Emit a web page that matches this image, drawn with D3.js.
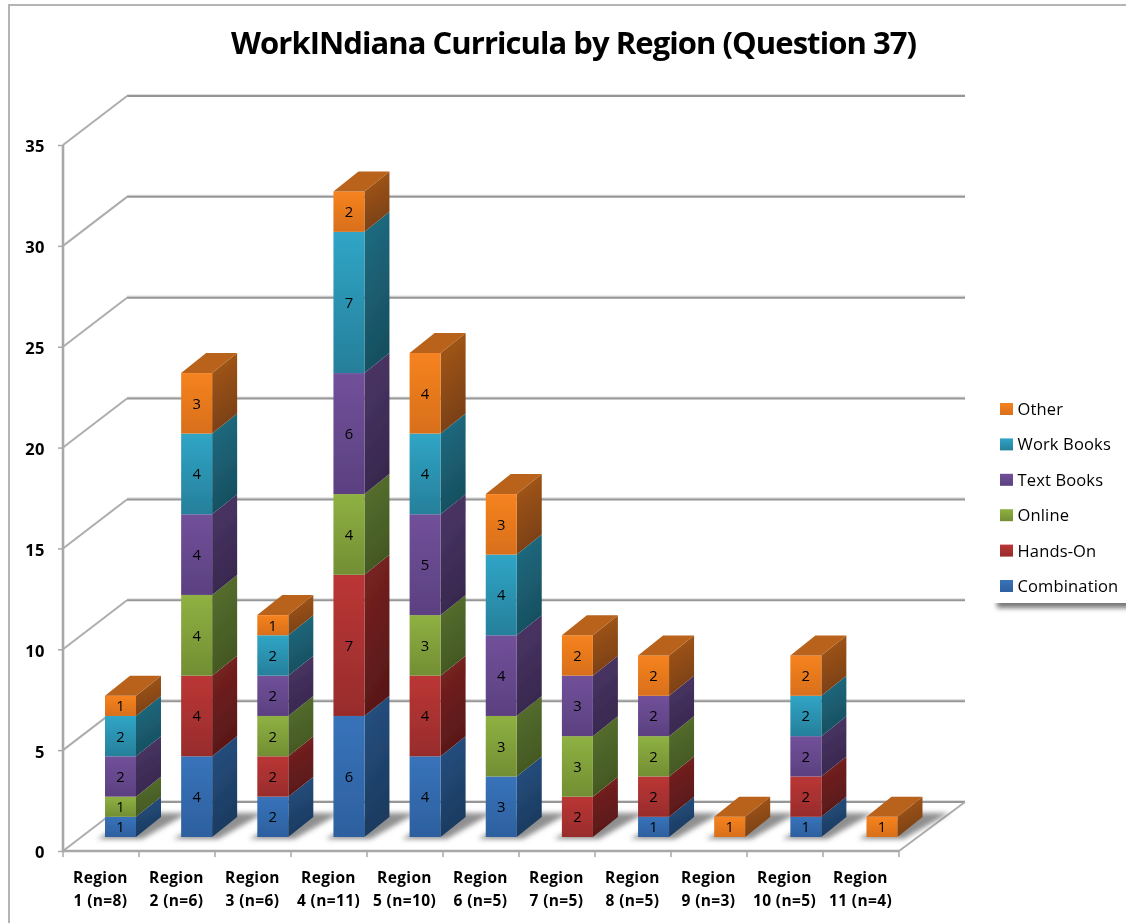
<!DOCTYPE html>
<html>
<head>
<meta charset="utf-8">
<script src="https://cdnjs.cloudflare.com/ajax/libs/d3/7.8.5/d3.min.js"></script>
<style>
html,body{margin:0;padding:0;background:#fff;overflow:hidden}
svg{display:block}
text{font-family:"Open Sans","Noto Sans",sans-serif;fill:#000}
</style>
</head>
<body>
<svg id="chart" width="1126" height="923"></svg>
<script>
const chartTitle = "WorkINdiana Curricula by Region (Question 37)";
const regionLines = [["Region","1 (n=8)"],["Region","2 (n=6)"],["Region","3 (n=6)"],["Region","4 (n=11)"],["Region","5 (n=10)"],["Region","6 (n=5)"],["Region","7 (n=5)"],["Region","8 (n=5)"],["Region","9 (n=3)"],["Region","10 (n=5)"],["Region","11 (n=4)"]];
const seriesNames = ["Combination","Hands-On","Online","Text Books","Work Books","Other"];
const combination = [1,4,2,6,4,3,0,1,0,1,0];
const handsOn     = [0,4,2,7,4,0,2,2,0,2,0];
const online      = [1,4,2,4,3,3,3,2,0,0,0];
const textBooks   = [2,4,2,6,5,4,3,2,0,2,0];
const workBooks   = [2,4,2,7,4,4,0,0,0,2,0];
const other       = [1,3,1,2,4,3,2,2,1,2,1];
const yTicks = [0,5,10,15,20,25,30,35];
const frontTop = ["#3873ba","#bb3635","#8fb142","#71519a","#30a5c6","#f68320"];
const frontBot = ["#2d609f","#982c2c","#728e33","#5b4080","#267f9a","#d86f1c"];
const sideTop  = ["#265284","#7c2322","#587230","#4c3668","#206e84","#a8591a"];
const sideBot  = ["#1b3a5f","#581818","#435722","#38284e","#174f60","#7a4012"];
const topColor = ["#2a5a90","#872626","#607c34","#533b70","#237890","#b9621a"];

const seriesValues = [combination,handsOn,online,textBooks,workBooks,other];
const cats = regionLines.map((d,i)=>i);
const rows = cats.map(i=>{const r={i};seriesNames.forEach((n,s)=>r[n]=seriesValues[s][i]);return r;});
const stacked = d3.stack().keys(seriesNames)(rows);

const svg = d3.select("#chart");
const defs = svg.append("defs");
const grad=(id,a,b,x2,y2)=>{const g=defs.append("linearGradient").attr("id",id).attr("x1",0).attr("y1",0).attr("x2",x2).attr("y2",y2);
  g.append("stop").attr("offset",0).attr("stop-color",a);g.append("stop").attr("offset",1).attr("stop-color",b);};
seriesNames.forEach((n,s)=>{grad("f"+s,frontTop[s],frontBot[s],0,1);grad("s"+s,sideTop[s],sideBot[s],0.25,1);});
const blur=defs.append("filter").attr("id","shadow").attr("x","-30%").attr("y","-50%").attr("width","160%").attr("height","200%");
blur.append("feGaussianBlur").attr("stdDeviation",2.8);
const soft=defs.append("filter").attr("id","soft").attr("x","-2%").attr("y","-2%").attr("width","104%").attr("height","104%");
soft.append("feGaussianBlur").attr("stdDeviation",0.5);
const legBlur=defs.append("filter").attr("id","legShadow").attr("x","-10%").attr("y","-10%").attr("width","120%").attr("height","120%");
legBlur.append("feGaussianBlur").attr("stdDeviation",2.5);

const y = d3.scaleLinear().domain([0,35]).range([851,145]);
const x = d3.scaleBand().domain(cats).range([63,899]);
const wallDx = 64, wallDy = -49;
const barW = 31, barInset = 42, barDrift = 0.15, barDepthX = 25, barDepthY = -20, barLift = -14;
const barX = i => x(i)+barInset+barDrift*i;
const barY = v => y(v)+barLift;
const poly = pts => pts.map(p=>p.join(",")).join(" ");

const root = svg.append("g").attr("filter","url(#soft)");

// frame
root.append("path").attr("d","M9,923V5H1126").attr("fill","none").attr("stroke","#b4b4b4").attr("stroke-width",2);

// walls and gridlines
const grid = root.append("g");
yTicks.forEach(t=>{
  const yy=y(t);
  grid.append("line").attr("x1",63+wallDx).attr("x2",899+wallDx+2).attr("y1",yy+wallDy-1.4).attr("y2",yy+wallDy-1.4).attr("stroke","#dedede").attr("stroke-width",1.4);
  grid.append("line").attr("x1",63+wallDx).attr("x2",899+wallDx+2).attr("y1",yy+wallDy).attr("y2",yy+wallDy).attr("stroke","#969696").attr("stroke-width",2);
  grid.append("line").attr("x1",63).attr("x2",63+wallDx).attr("y1",yy).attr("y2",yy+wallDy).attr("stroke","#adadad").attr("stroke-width",2);
});
// floor right edge
grid.append("line").attr("x1",899).attr("x2",899+wallDx+2).attr("y1",851).attr("y2",851+wallDy).attr("stroke","#adadad").attr("stroke-width",2);

// floor shadows
const shadows = root.append("g").attr("fill","#6a6a6a").attr("opacity",0.75).attr("filter","url(#shadow)");
cats.forEach(i=>{
  const bx=barX(i), by=barY(0);
  shadows.append("polygon").attr("points",poly([[bx-8,by+2],[bx+barW+6,by+2],[bx+barW+barDepthX+27,by-24],[bx+barDepthX+14,by-24]]));
});

// bars
const bars = root.append("g");
cats.forEach(i=>{
  const bx=barX(i);
  const g=bars.append("g");
  stacked.forEach((layer,s)=>{
    const [v0,v1]=layer[i];
    if(v1===v0) return;
    const y0=barY(v0), y1=barY(v1);
    g.append("polygon").attr("points",poly([[bx+barW,y0],[bx+barW+barDepthX,y0+barDepthY],[bx+barW+barDepthX,y1+barDepthY],[bx+barW,y1]])).attr("fill",`url(#s${s})`);
    g.append("rect").attr("x",bx).attr("y",y1).attr("width",barW).attr("height",y0-y1).attr("fill",`url(#f${s})`);
  });
  let topS=-1; stacked.forEach((l,s)=>{ if(l[i][1]>l[i][0]) topS=s; });
  const t=barY(stacked[topS][i][1]);
  g.append("polygon").attr("points",poly([[bx,t],[bx+barW,t],[bx+barW+barDepthX,t+barDepthY],[bx+barDepthX,t+barDepthY]])).attr("fill",topColor[topS]);
});

// value axis
const yAxis = root.append("g").attr("transform","translate(63,0)")
  .call(d3.axisLeft(y).tickValues(yTicks).tickSize(5).tickPadding(13).tickFormat(d3.format("d")));
yAxis.select(".domain").attr("stroke","#a8a8a8").attr("stroke-width",2.6).attr("d","M0,145V851");
yAxis.selectAll(".tick line").attr("stroke","#a8a8a8").attr("stroke-width",1.5);
yAxis.selectAll(".tick text").attr("font-size",16.5).attr("font-weight",700).attr("dy","0.42em").attr("letter-spacing",0.5).style("font-family",'"Open Sans",sans-serif');

// category axis
const xAxis = root.append("g").attr("transform","translate(0,851)")
  .call(d3.axisBottom(x).tickSize(0).tickPadding(0).tickFormat(()=>""));
xAxis.select(".domain").attr("stroke","#a8a8a8").attr("stroke-width",2.6).attr("d","M63,0H899");
xAxis.selectAll(".tick text").remove();
const edges = cats.map(i=>x(i)).concat([x.range()[1]]);
xAxis.selectAll("line.edge").data(edges).join("line").attr("class","edge")
  .attr("x1",d=>d).attr("x2",d=>d).attr("y1",0).attr("y2",6).attr("stroke","#a8a8a8").attr("stroke-width",1.5);

// data labels
const labels = root.append("g");
stacked.forEach(layer=>{
  cats.forEach(i=>{
    const [v0,v1]=layer[i];
    if(v1===v0) return;
    labels.append("text").attr("x",barX(i)+barW/2).attr("y",(barY(v0)+barY(v1))/2+5.5)
      .attr("text-anchor","middle").attr("font-size",14.8).text(v1-v0);
  });
});

// category labels
const cl = root.append("g");
cats.forEach(i=>{
  const t=cl.append("text").attr("text-anchor","middle").attr("font-size",15.5).attr("font-weight",700).attr("letter-spacing",0.35);
  regionLines[i].forEach((ln,k)=>t.append("tspan").attr("x",x(i)+x.bandwidth()/2-0.5).attr("y",882.5+k*23).text(ln));
});

// legend
const lg = svg.append("g");
lg.append("rect").attr("x",997).attr("y",400).attr("width",140).attr("height",208).attr("fill","#555").attr("opacity",0.8).attr("filter","url(#legShadow)");
lg.append("rect").attr("x",992).attr("y",392).attr("width",140).attr("height",211).attr("fill","#fff");
const legG = lg.append("g").attr("filter","url(#soft)");
const legOrder = d3.range(seriesNames.length).reverse();
const legY = d3.scalePoint().domain(legOrder).range([409,586]);
legOrder.forEach(s=>{
  legG.append("rect").attr("x",1000).attr("y",legY(s)-6).attr("width",13).attr("height",12).attr("fill",`url(#f${s})`);
  legG.append("text").attr("x",1017.5).attr("y",legY(s)+6).attr("font-size",16.5).attr("letter-spacing",0.15).text(seriesNames[s]);
});

// title
root.append("text").attr("x",574).attr("y",54).attr("text-anchor","middle").attr("font-size",31).attr("font-weight",700)
  .attr("textLength",686).attr("lengthAdjust","spacing").text(chartTitle);
</script>
</body>
</html>
